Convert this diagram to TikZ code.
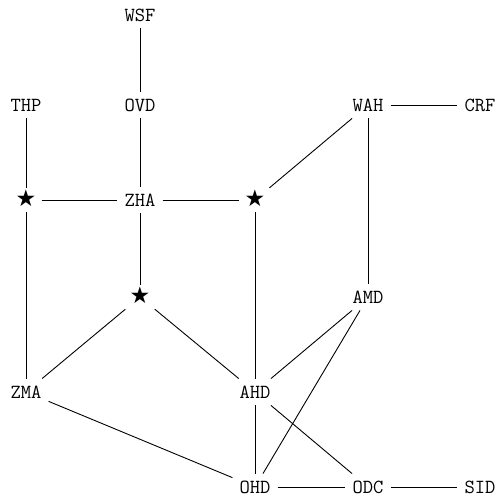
\documentclass[tikz,border=0pt]{standalone}
\usepackage{fontspec}
\setmonofont{Latin Modern Mono}
\newfontfamily\symfont{DejaVu Sans}
\begin{document}
\begin{tikzpicture}[x=1pt,y=1pt,
  lbl/.style={font=\fontsize{20}{24}\selectfont\ttfamily, inner sep=7pt,
              text height=12.5pt, text depth=0pt},
  starnode/.style={font=\fontsize{23}{26}\selectfont\symfont, inner sep=5pt,
              text height=14pt, text depth=0pt},
  edge/.style={line width=0.9pt}]
\useasboundingbox (0,0) rectangle (497,501);
% row 1
\node[lbl] (wsf) at (140,486) {WSF};
% row 2
\node[lbl] (thp) at (26,396) {THP};
\node[lbl] (ovd) at (140,396) {OVD};
\node[lbl] (wah) at (368,396) {WAH};
\node[lbl] (crf) at (480,396) {CRF};
% row 3
\node[starnode] (s1) at (26,301) {★};
\node[lbl] (zha) at (140,301) {ZHA};
\node[starnode] (s3) at (255,301) {★};
% row 4
\node[starnode] (s2) at (140,204) {★};
\node[lbl] (amd) at (368,204) {AMD};
% row 5
\node[lbl] (zma) at (26,109) {ZMA};
\node[lbl] (ahd) at (255,109) {AHD};
% row 6
\node[lbl] (ohd) at (255,14) {OHD};
\node[lbl] (odc) at (368,14) {ODC};
\node[lbl] (sid) at (480,14) {SID};

\draw[edge] (wsf) -- (ovd);
\draw[edge] (ovd) -- (zha);
\draw[edge] (thp) -- (s1);
\draw[edge] (s1) -- (zha);
\draw[edge] (zha) -- (s3);
\draw[edge] (zha) -- (s2);
\draw[edge] (wah) -- (crf);
\draw[edge] (wah) -- (s3);
\draw[edge] (wah) -- (amd);
\draw[edge] (s1) -- (zma);
\draw[edge] (s2) -- (zma);
\draw[edge] (s2) -- (ahd);
\draw[edge] (s3) -- (ahd);
\draw[edge] (amd) -- (ahd);
\draw[edge] (amd) -- (ohd);
\draw[edge] (zma) -- (ohd);
\draw[edge] (ahd) -- (ohd);
\draw[edge] (ahd) -- (odc);
\draw[edge] (ohd) -- (odc);
\draw[edge] (odc) -- (sid);
\end{tikzpicture}
\end{document}
